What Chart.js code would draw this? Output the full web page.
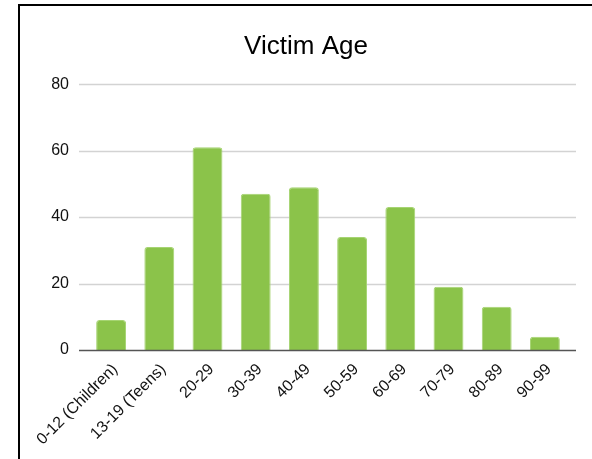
<!DOCTYPE html>
<html>
<head>
<meta charset="utf-8">
<script src="https://cdn.jsdelivr.net/npm/chart.js@4"></script>
<style>
  html, body { margin: 0; padding: 0; background: #fff; overflow: hidden; }
  #frame {
    position: absolute; left: 18px; top: 4px;
    width: 572px; height: 453px;
    border-left: 2px solid #000; border-top: 2px solid #000;
  }
  canvas { display: block; }
</style>
</head>
<body>
<div id="frame"><canvas id="ageChart" width="572" height="453"></canvas></div>
<script>
const ageGroups = ["0-12 (Children)", "13-19 (Teens)", "20-29", "30-39", "40-49", "50-59", "60-69", "70-79", "80-89", "90-99"];
const victimCounts = [9, 31, 61, 47, 49, 34, 43, 19, 13, 4];
const yTicks = [0, 20, 40, 60, 80];

const FONT = "'Liberation Sans', Arial, sans-serif";

// gridlines in the original run a bit past the bars on both sides
const gridPlugin = {
    id: 'wideGrid',
    beforeDatasetsDraw(chart) {
        const { ctx, chartArea, scales } = chart;
        ctx.save();
        ctx.strokeStyle = '#d3d3d3';
        ctx.lineWidth = 1.5;
        yTicks.forEach(v => {
            if (v === 0) return;
            const y = Math.round(scales.y.getPixelForValue(v)) + 0.5;
            ctx.beginPath();
            ctx.moveTo(chartArea.left - 8, y);
            ctx.lineTo(chartArea.right + 7, y);
            ctx.stroke();
        });
        ctx.restore();
    },
    afterDatasetsDraw(chart) {
        const { ctx, chartArea, scales } = chart;
        const y = Math.round(scales.y.getPixelForValue(0)) + 0.5;
        ctx.save();
        ctx.strokeStyle = '#555';
        ctx.lineWidth = 1.5;
        ctx.beginPath();
        ctx.moveTo(chartArea.left - 8, y);
        ctx.lineTo(chartArea.right + 7, y);
        ctx.stroke();
        ctx.restore();
    }
};

new Chart(document.getElementById('ageChart'), {
    type: 'bar',
    data: {
        labels: ageGroups,
        datasets: [{
            label: 'Victim Age',
            data: victimCounts,
            backgroundColor: '#8bc34a',
            borderColor: '#a6d472',
            borderWidth: 1,
            borderSkipped: 'start',
            borderRadius: 3,
            barPercentage: 0.62,
            categoryPercentage: 1
        }]
    },
    options: {
        responsive: false,
        animation: false,
        layout: { padding: 0 },
        plugins: {
            legend: { display: false },
            tooltip: { enabled: false },
            title: {
                display: true,
                text: 'Victim Age',
                color: '#000',
                font: { family: FONT, size: 26, weight: 'normal' },
                padding: { top: 25, bottom: 22 }
            }
        },
        scales: {
            x: {
                grid: { display: false, drawTicks: false },
                border: { display: false },
                ticks: {
                    color: '#111',
                    font: { family: FONT, size: 16 },
                    minRotation: 45,
                    maxRotation: 45,
                    autoSkip: false,
                    padding: 10,
                    labelOffset: 4
                }
            },
            y: {
                min: 0,
                max: 80,
                grid: { display: false, drawTicks: false },
                border: { display: false },
                ticks: {
                    stepSize: 20,
                    color: '#111',
                    font: { family: FONT, size: 16 },
                    padding: 18
                },
                afterFit(scale) { scale.width = 67; }
            },
            // empty right-hand axis, only there to keep the right margin
            yRight: {
                position: 'right',
                min: 0,
                max: 80,
                grid: { display: false, drawTicks: false },
                border: { display: false },
                ticks: { display: false },
                afterFit(scale) { scale.width = 23; }
            }
        }
    },
    plugins: [gridPlugin]
});
</script>
</body>
</html>
